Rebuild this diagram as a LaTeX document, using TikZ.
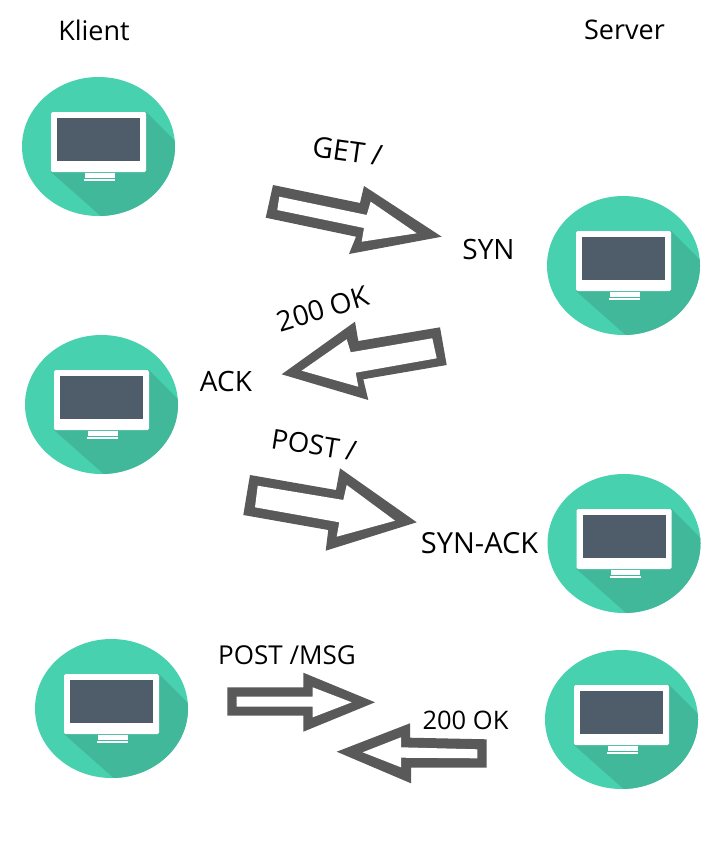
\documentclass[tikz,border=0pt]{standalone}
\usepackage{fontspec}
\setmainfont{Open Sans}
\definecolor{teal1}{HTML}{48D1AE}
\definecolor{teal2}{HTML}{40B899}
\definecolor{screen}{HTML}{4F5D6B}
\definecolor{arrowgrey}{HTML}{595959}
\tikzset{
  lbl/.style={inner sep=0pt,font=\fontsize{#1}{#1}\selectfont,text=black},
  outerarrow/.style={fill=arrowgrey,draw=none},
  innerarrow/.style={fill=white,draw=none},
  pics/computer/.style={code={
    \begin{scope}
      \clip (0,0) ellipse [x radius=76.5,y radius=69.5];
      \fill[teal1] (-80,-75) rectangle (80,75);
      \fill[teal2] (47.5,-34.5) -- (100,18) -- (100,80) -- (14,80) -- (-47.5,25.5) -- cycle;
    \end{scope}
    \fill[white,rounded corners=1.5] (-47.5,-34.5) rectangle (47.5,25.5);
    \fill[screen] (-41.5,-28.5) rectangle (41.5,14.5);
    \fill[white] (-13.5,26.5) rectangle (16,31.5);
    \fill[white] (-14.5,32.2) rectangle (16.5,34.5);
  }}
}
\begin{document}
\begin{tikzpicture}[x=1pt,y=-1pt]
\useasboundingbox (0,0) rectangle (717,843);
\fill[white] (0,0) rectangle (717,843);
\pic at (98.5,146.5) {computer};
\pic at (623.5,265.5) {computer};
\pic at (101.5,404.5) {computer};
\pic at (624,543.5) {computer};
\pic at (111.5,708.5) {computer};
\pic at (621.5,719.5) {computer};
% arrow 1
\fill[outerarrow] (273,185) -- (360,203) -- (364,186) -- (441.7,236.7) -- (349,254) -- (356,236.7) -- (265.7,217.7) -- cycle;
\fill[innerarrow] (279.3,196.7) -- (366.7,215) -- (370.7,201.7) -- (416.7,233.3) -- (361.7,241.7) -- (364,228) -- (277.3,210) -- cycle;
% arrow 2
\fill[outerarrow] (440,327.3) -- (446.7,365) -- (363.3,379.3) -- (368.3,400) -- (281.7,374.3) -- (355,321.7) -- (358.3,341) -- cycle;
\fill[innerarrow] (432.3,338.3) -- (436.7,358.3) -- (355.7,372.7) -- (358.3,386.7) -- (301.7,370.7) -- (346.7,339.3) -- (350.7,352.3) -- cycle;
% arrow 3
\fill[outerarrow] (250,475) -- (336,490) -- (340,468.3) -- (416.7,522.3) -- (325.7,550.7) -- (328.3,530) -- (243.3,515) -- cycle;
\fill[innerarrow] (257.7,485.7) -- (343.3,500) -- (346.7,485) -- (395,520.7) -- (336.7,536.7) -- (339.3,522.3) -- (255,507.3) -- cycle;
% arrow 4
\fill[outerarrow] (227.3,687.3) -- (303.3,687.3) -- (303.3,672.7) -- (375,702.3) -- (303.3,731.7) -- (303.3,715.7) -- (227.3,715.7) -- cycle;
\fill[innerarrow] (236.7,696.7) -- (312.7,696.7) -- (312.7,687.3) -- (351.7,702.3) -- (312.7,717.3) -- (312.7,706.7) -- (236.7,706.7) -- cycle;
% arrow 5
\fill[outerarrow] (486.7,739.3) -- (410,737.7) -- (410,723.3) -- (336.7,751.7) -- (411,783.3) -- (411,767.7) -- (486.7,767.7) -- cycle;
\fill[innerarrow] (477.3,749.3) -- (401,747.3) -- (401,737.3) -- (362.7,752.3) -- (401,767.3) -- (401,757.7) -- (477.3,758.3) -- cycle;
% labels
\node[lbl=27] (klient) at (94,30) {Klient};
\node[lbl=27] (server) at (624.5,30) {Server};
\node[lbl=28.5,rotate=-8] (get) at (347.5,151) {GET /};
\node[lbl=28] (syn) at (488.5,249) {SYN};
\node[lbl=28,rotate=17] (ok1) at (323,309) {200 OK};
\node[lbl=28] (ack) at (226,381) {ACK};
\node[lbl=27.5,rotate=-9] (post) at (314,445) {POST /};
\node[lbl=29] (synack) at (479.5,543) {SYN-ACK};
\node[lbl=26] (postmsg) at (287,655) {POST /MSG};
\node[lbl=25.5] (ok2) at (465.5,720) {200 OK};
\end{tikzpicture}
\end{document}
